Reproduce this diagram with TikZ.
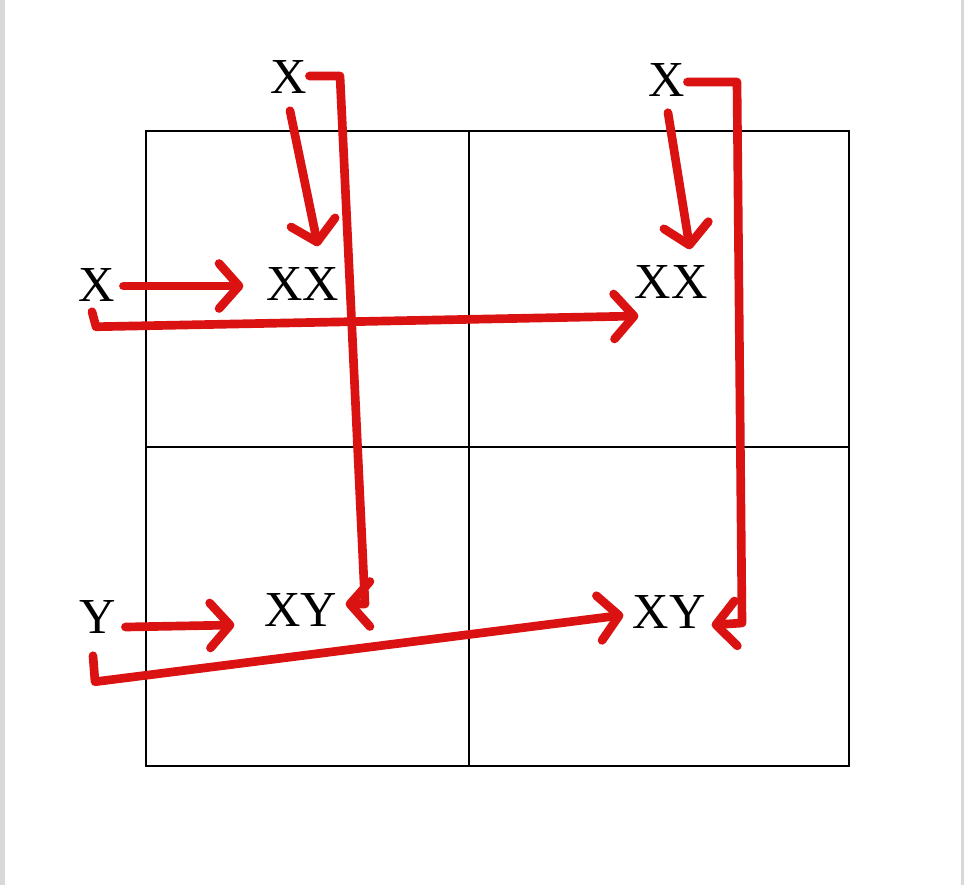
\documentclass[tikz,border=0pt]{standalone}
\usepackage{fontspec}
\setmainfont{Liberation Serif}
\usetikzlibrary{arrows.meta,calc}
\definecolor{penred}{RGB}{218,18,18}
\definecolor{edgegray}{RGB}{216,216,216}

\begin{document}
\begin{tikzpicture}[x=0.03cm,y=-0.03cm,
lbl/.style={inner sep=0pt,font=\fontsize{43}{48}\selectfont},
grid/.style={draw=black,line width=0.9pt},
arr/.style={draw=penred,line width=7.4pt,line cap=round,line join=round,
  -{Straight Barb[length=0.6cm,width=1.35cm,line cap=round,line join=round]}}]
\useasboundingbox[fill=white](0,0)rectangle(964,885);
\fill[edgegray](0,0)rectangle(5,885);\fill[edgegray](961,0)rectangle(964,885);
% grid
\draw[grid](146,131)rectangle(849,766);
\draw[grid](469,131)--(469,766);\draw[grid](146,447)--(849,447);
% labels
\node[lbl](xtl)at(289,77){X};
\node[lbl](xtr)at(667,80){X};
\node[lbl](xl)at(97,285){X};
\node[lbl](yl)at(98,617){Y};
\node[lbl](xxl)at(303,284){XX};
\node[lbl](xxr)at(671,282){XX};
\node[lbl](xyl)at(301,610){XY};
\node[lbl](xyr)at(669,612){XY};
% arrows
\draw[arr]($(xtl.east)+(2,-1)$)--(340,76)--(365,604)--($(xyl.east)+(8,-6)$);
\draw[arr]($(xtl.south)+(1,17)$)--($(xxl.north)+(15,-21)$);
\draw[arr]($(xl.east)+(8,1)$)--($(xxl.west)+(-23,2)$);
\draw[arr]($(xl.south)+(-5,10)$)--($(xl.south)+(-1,25)$)--($(xxr.west)+(4,34)$);
\draw[arr]($(xtr.east)+(2,2)$)--(737,82)--(742,623)--($(xyr.east)+(6,13)$);
\draw[arr]($(xtr.south)+(1,16)$)--($(xxr.north)+(19,-16)$);
\draw[arr]($(yl.east)+(9,10)$)--($(xyl.west)+(-30,15)$);
\draw[arr]($(yl.south)+(-5,22)$)--($(yl.south)+(-3,48)$)--($(xyr.west)+(-9,3)$);
\end{tikzpicture}
\end{document}
